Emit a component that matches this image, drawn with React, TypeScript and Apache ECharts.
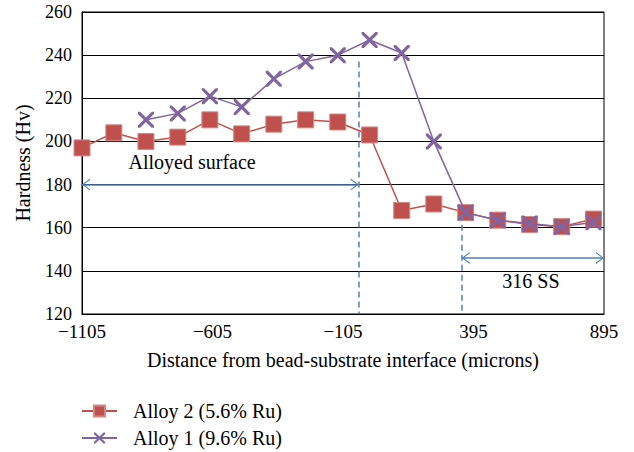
import React, { useEffect, useRef } from "react";
import * as echarts from "echarts";

const distances = [-1105, -983, -860, -738, -615, -493, -370, -248, -125, -3, 120, 243, 365, 488, 610, 733, 855];
const alloy2 = [197, 204, 200, 202, 210, 203.5, 208, 210, 209, 203, 168, 171, 167, 163.5, 161.5, 160.5, 164];
const alloy1 = [null, null, 210, 213, 221, 216, 229, 237, 240, 247, 241, 200, 167, 163.5, 162, 160.5, 162.5];
const xTicks = { min: -1105, max: 895, interval: 500 };
const yTicks = { min: 120, max: 260, interval: 20 };
const seriesNames = ["Alloy 2 (5.6% Ru)", "Alloy 1 (9.6% Ru)"];

// annotations (data coordinates)
const interfaceLine = { x: -45, yTop: 237 };
const ssLine = { x: 350, yTop: 166 };
const alloyedArrow = { from: -1105, to: -45, y: 180 };
const ssArrow = { from: 350, to: 895, y: 146 };
const alloyedLabel = { x: -683, y: 190.6, text: "Alloyed surface" };
const ssLabel = { x: 615, y: 135.5, text: "316 SS" };

const FONT = "Liberation Serif";
const BLUE = "#4F81BD";
const RED = "#C0504D";
const PURPLE = "#8064A2";

const chevron = "path://M50 0 L50 0 M0 100 L50 50 L100 100 L89 100 L50 61 L11 100 Z";
const xMark = "path://M0 0 L1.4 0 L5 3.6 L8.6 0 L10 0 L10 1.4 L6.4 5 L10 8.6 L10 10 L8.6 10 L5 6.4 L1.4 10 L0 10 L0 8.6 L3.6 5 L0 1.4 Z";

export default function App() {
  const ref = useRef<HTMLDivElement>(null);
  useEffect(() => {
    if (!ref.current) return;
    const chart = echarts.init(ref.current, undefined, { renderer: "svg" });
    const pairs = (ys: (number | null)[]) =>
      distances.map((d, i) => [d, ys[i]]).filter((p) => p[1] !== null);
    chart.setOption({
      animation: false,
      backgroundColor: "#fff",
      textStyle: { fontFamily: FONT },
      grid: {
        left: 82,
        right: 30,
        top: 12,
        bottom: 138,
        show: true,
        borderColor: "#000",
        borderWidth: 1,
        containLabel: false,
      },
      xAxis: {
        type: "value",
        min: xTicks.min,
        max: xTicks.max,
        interval: xTicks.interval,
        name: "Distance from bead-substrate interface (microns)",
        nameLocation: "middle",
        nameGap: 36,
        nameTextStyle: { fontFamily: FONT, fontSize: 20, color: "#000" },
        axisLine: { show: true, onZero: false, lineStyle: { color: "#000", width: 1 } },
        axisTick: { show: false },
        splitLine: { show: false },
        axisLabel: {
          fontFamily: FONT,
          fontSize: 19,
          color: "#000",
          margin: 8,
          formatter: (v: number) => (v < 0 ? "\u2212" + Math.abs(v) : String(v)),
        },
      },
      yAxis: {
        type: "value",
        min: yTicks.min,
        max: yTicks.max,
        interval: yTicks.interval,
        name: "Hardness (Hv)",
        nameLocation: "middle",
        nameGap: 49,
        nameTextStyle: { fontFamily: FONT, fontSize: 20, color: "#000" },
        axisLine: { show: true, onZero: false, lineStyle: { color: "#000", width: 1 } },
        axisTick: { show: false },
        splitLine: { show: true, lineStyle: { color: "#000", width: 1 } },
        axisLabel: { fontFamily: FONT, fontSize: 18, color: "#000", margin: 10 },
      },
      legend: {
        orient: "vertical",
        left: 81,
        top: 401,
        padding: 0,
        itemWidth: 35,
        itemHeight: 14,
        itemGap: 7,
        textStyle: { fontFamily: FONT, fontSize: 20, color: "#000", padding: [0, 0, 0, 11] },
        data: seriesNames,
      },
      series: [
        {
          name: seriesNames[0],
          type: "line",
          data: pairs(alloy2),
          symbol: "rect",
          symbolSize: 16,
          z: 2,
          lineStyle: { color: RED, width: 1.5 },
          itemStyle: { color: RED, borderColor: "#D38886", borderWidth: 1 },
          markLine: {
            silent: true,
            label: { show: false },
            symbol: ["none", "none"],
            data: [
              [
                { coord: [interfaceLine.x, interfaceLine.yTop], symbol: "none" },
                { coord: [interfaceLine.x, yTicks.min], symbol: "none" },
              ],
              [
                { coord: [ssLine.x, ssLine.yTop], symbol: "none" },
                { coord: [ssLine.x, yTicks.min], symbol: "none" },
              ],
            ],
            lineStyle: { color: BLUE, width: 1.5, type: [6, 4] },
          },
        },
        {
          name: seriesNames[1],
          type: "line",
          data: pairs(alloy1),
          symbol: xMark,
          symbolSize: 16,
          z: 3,
          lineStyle: { color: PURPLE, width: 1.5 },
          itemStyle: { color: PURPLE },
          markLine: {
            silent: true,
            label: { show: false },
            symbol: [chevron, chevron],
            symbolSize: [12, 16],
            lineStyle: { color: BLUE, width: 1.5, type: "solid" },
            data: [
              [
                { coord: [alloyedArrow.from, alloyedArrow.y] },
                { coord: [alloyedArrow.to, alloyedArrow.y] },
              ],
              [
                { coord: [ssArrow.from, ssArrow.y] },
                { coord: [ssArrow.to, ssArrow.y] },
              ],
            ],
          },
          markPoint: {
            silent: true,
            symbol: "circle",
            symbolSize: 0,
            label: {
              show: true,
              position: "inside",
              fontFamily: FONT,
              fontSize: 20,
              color: "#000",
              formatter: (p: any) => p.name,
            },
            data: [
              { name: alloyedLabel.text, coord: [alloyedLabel.x, alloyedLabel.y] },
              { name: ssLabel.text, coord: [ssLabel.x, ssLabel.y] },
            ],
          },
        },
      ],
    });
    return () => chart.dispose();
  }, []);
  return (
    <div
      ref={ref}
      style={{ position: "fixed", left: 0, top: 0, width: 634, height: 452, background: "#fff" }}
    />
  );
}
